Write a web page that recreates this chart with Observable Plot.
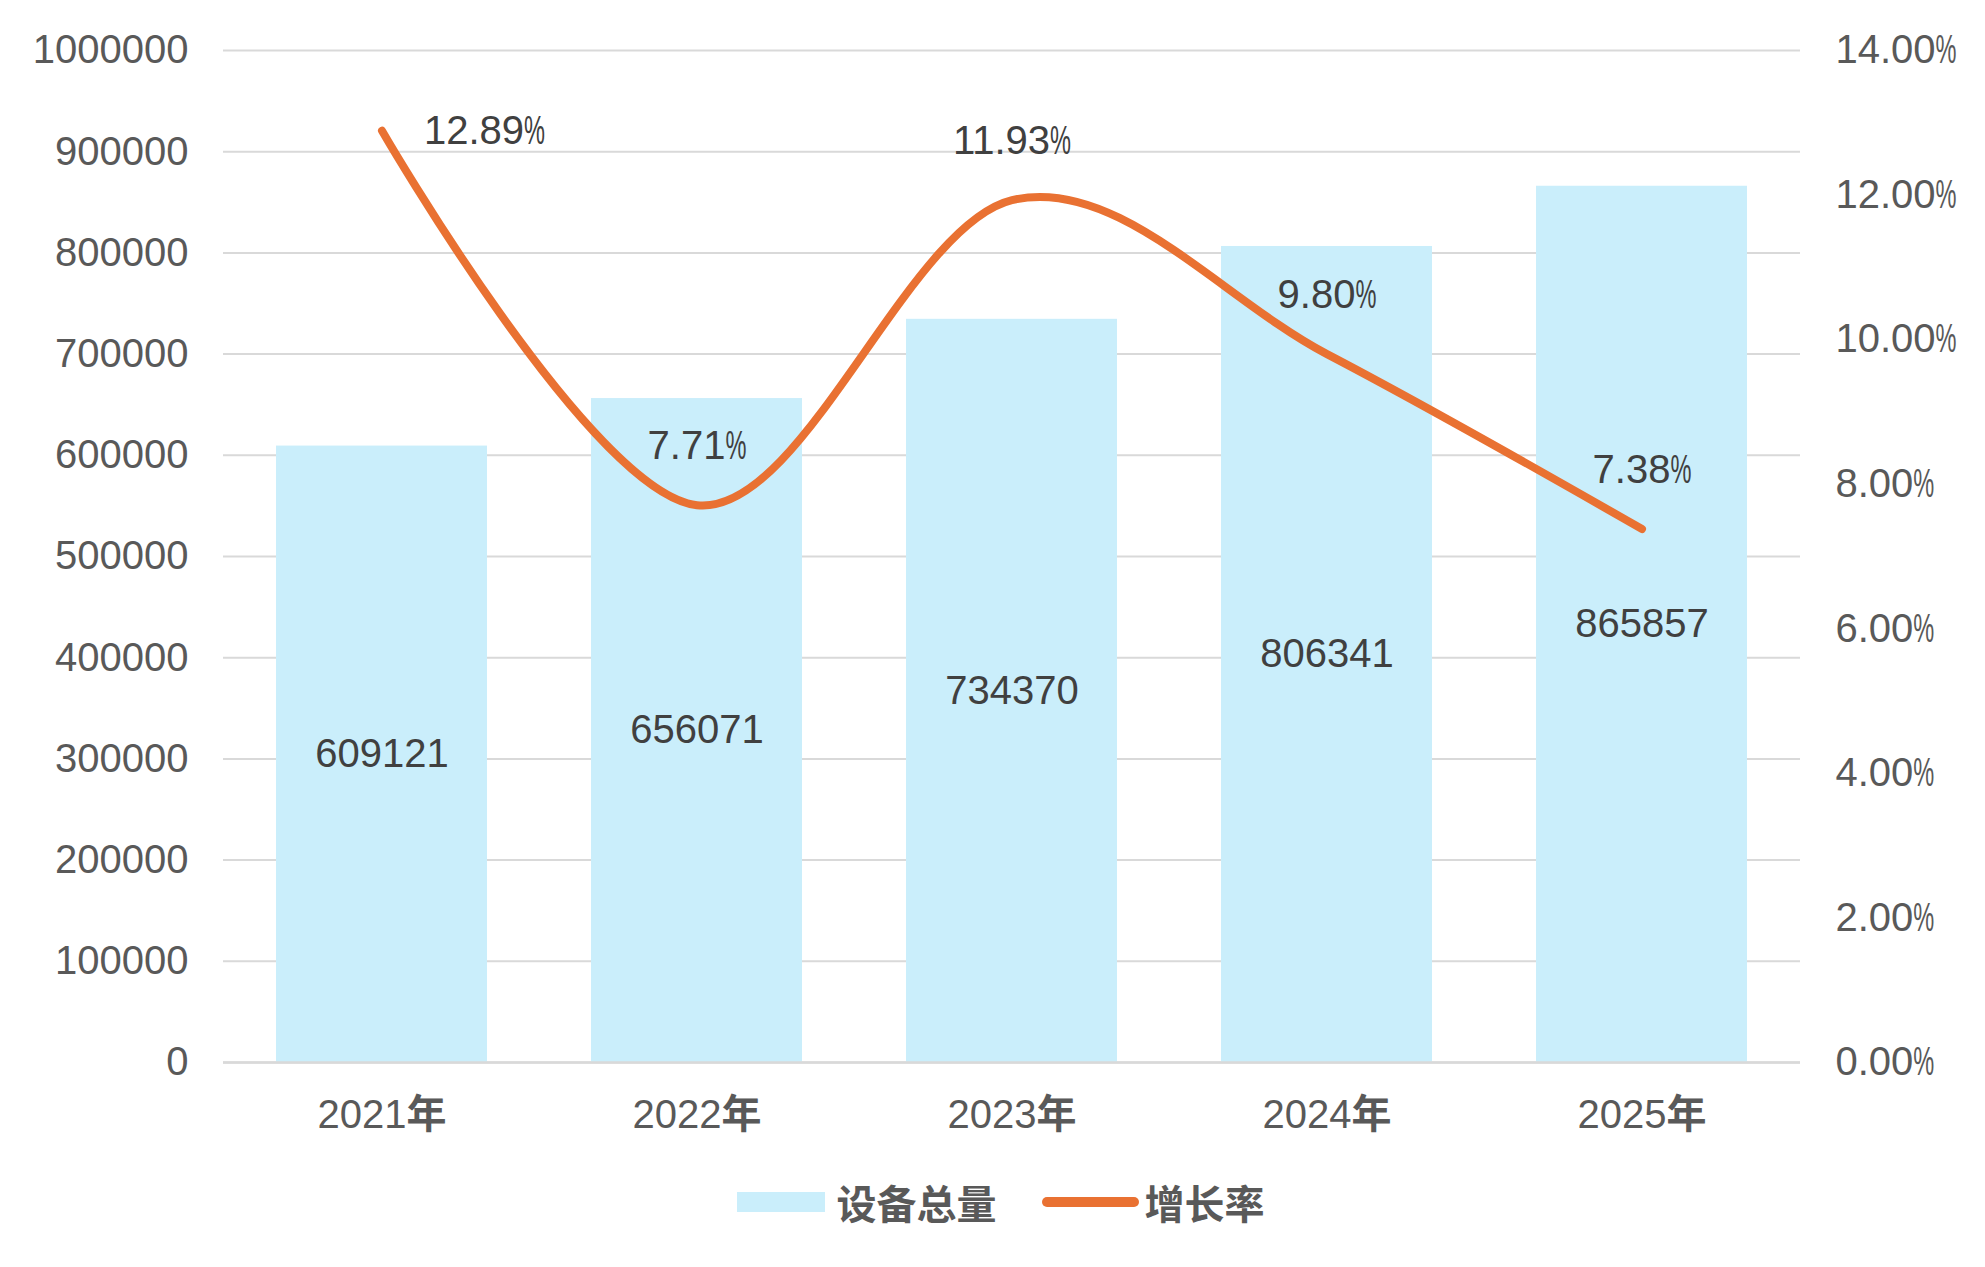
<!DOCTYPE html>
<html>
<head>
<meta charset="utf-8">
<script src="https://cdn.jsdelivr.net/npm/d3@7"></script>
<script src="https://cdn.jsdelivr.net/npm/@observablehq/plot@0.6"></script>
<style>
  html, body { margin: 0; padding: 0; background: #ffffff; }
  body { width: 1985px; height: 1267px; overflow: hidden; font-family: "Liberation Sans", Arial, "Noto Sans CJK SC", sans-serif; }
  #legend { display: flex; justify-content: center; align-items: center; height: 84px; padding-left: 16px; font-size: 40px; color: #595959; }
  #legend span { font-family: "Noto Sans CJK SC", sans-serif; font-weight: 700; }
  .sw-bar { width: 88px; height: 20px; background: #caeefb; margin-right: 12px; }
  .sw-line { width: 97px; height: 10px; border-radius: 5px; background: #e97132; margin-left: 45px; margin-right: 6px; }
</style>
</head>
<body>
<div id="chart"></div>
<div id="legend">
  <div class="sw-bar"></div><span>设备总量</span>
  <div class="sw-line"></div><span>增长率</span>
</div>
<script>
const years = ["2021年", "2022年", "2023年", "2024年", "2025年"];
const totals = [609121, 656071, 734370, 806341, 865857];
const growth = [12.89, 7.71, 11.93, 9.80, 7.38];
const leftTicks = [0, 100000, 200000, 300000, 400000, 500000, 600000, 700000, 800000, 900000, 1000000];
const rightTicks = [0, 2, 4, 6, 8, 10, 12, 14];

const yMax = 1000000;
const pctMax = 14;
const pctToY = p => p / pctMax * yMax;

const data = years.map((year, i) => ({year, total: totals[i], growth: growth[i]}));

const fontFamily = '"Liberation Sans", Arial, "Noto Sans CJK SC", sans-serif';

const chart = Plot.plot({
  width: 1985,
  height: 1160,
  marginLeft: 223,
  marginRight: 185,
  marginTop: 50,
  marginBottom: 98,
  style: {fontFamily, fontSize: "40px", background: "#ffffff", overflow: "visible"},
  x: {domain: years, paddingInner: 0.331, paddingOuter: 0.165, axis: null},
  y: {domain: [0, yMax], axis: null},
  marks: [
    Plot.gridY(leftTicks, {stroke: "#d9d9d9", strokeOpacity: 1, strokeWidth: 2}),
    Plot.barY(data, {x: "year", y: "total", fill: "#caeefb"}),
    Plot.ruleY([0], {stroke: "#d9d9d9", strokeWidth: 2.5}),
    Plot.line(data, {x: "year", y: d => pctToY(d.growth), stroke: "#e97132", strokeWidth: 8, strokeLinecap: "round", strokeLinejoin: "round", curve: "cardinal"}),
    Plot.text(data, {x: "year", y: d => d.total / 2, text: d => String(d.total), fill: "#404040", fontSize: 40}),
    Plot.text(data.slice(0, 1), {x: "year", y: d => pctToY(d.growth), text: d => d.growth.toFixed(2) + "%", fill: "#404040", fontSize: 40, textAnchor: "start", dx: 42}),
    Plot.text(data.slice(1), {x: "year", y: d => pctToY(d.growth), text: d => d.growth.toFixed(2) + "%", fill: "#404040", fontSize: 40, dy: -59}),
    Plot.axisY(leftTicks, {anchor: "left", tickSize: 0, tickPadding: 35, tickFormat: d => String(d), color: "#595959", fontSize: 40, label: null}),
    Plot.axisY(rightTicks.map(pctToY), {anchor: "right", tickSize: 0, tickPadding: 35, tickFormat: d => (d / yMax * pctMax).toFixed(2) + "%", color: "#595959", fontSize: 40, label: null}),
    Plot.axisX({anchor: "bottom", tickSize: 0, tickPadding: 37, color: "#595959", fontSize: 40, label: null})
  ]
});
document.getElementById("chart").appendChild(chart);

// typographic touches seen in the reference: narrow percent sign, heavier CJK glyph
const NS = "http://www.w3.org/2000/svg";
chart.querySelectorAll("text").forEach(t => {
  const targets = t.children.length ? Array.from(t.querySelectorAll("tspan")) : [t];
  targets.forEach(el => {
    if (el.children.length) return;
    const s = el.textContent;
    if (s.endsWith("%")) {
      el.textContent = s.slice(0, -1);
      const ts = document.createElementNS(NS, "tspan");
      ts.textContent = "%";
      ts.setAttribute("textLength", "21");
      ts.setAttribute("lengthAdjust", "spacingAndGlyphs");
      el.appendChild(ts);
    } else if (s.endsWith("年")) {
      el.textContent = s.slice(0, -1);
      const ts = document.createElementNS(NS, "tspan");
      ts.textContent = "年";
      ts.setAttribute("font-weight", "700");
      ts.setAttribute("font-family", "Noto Sans CJK SC");
      el.appendChild(ts);
    }
  });
});
</script>
</body>
</html>
